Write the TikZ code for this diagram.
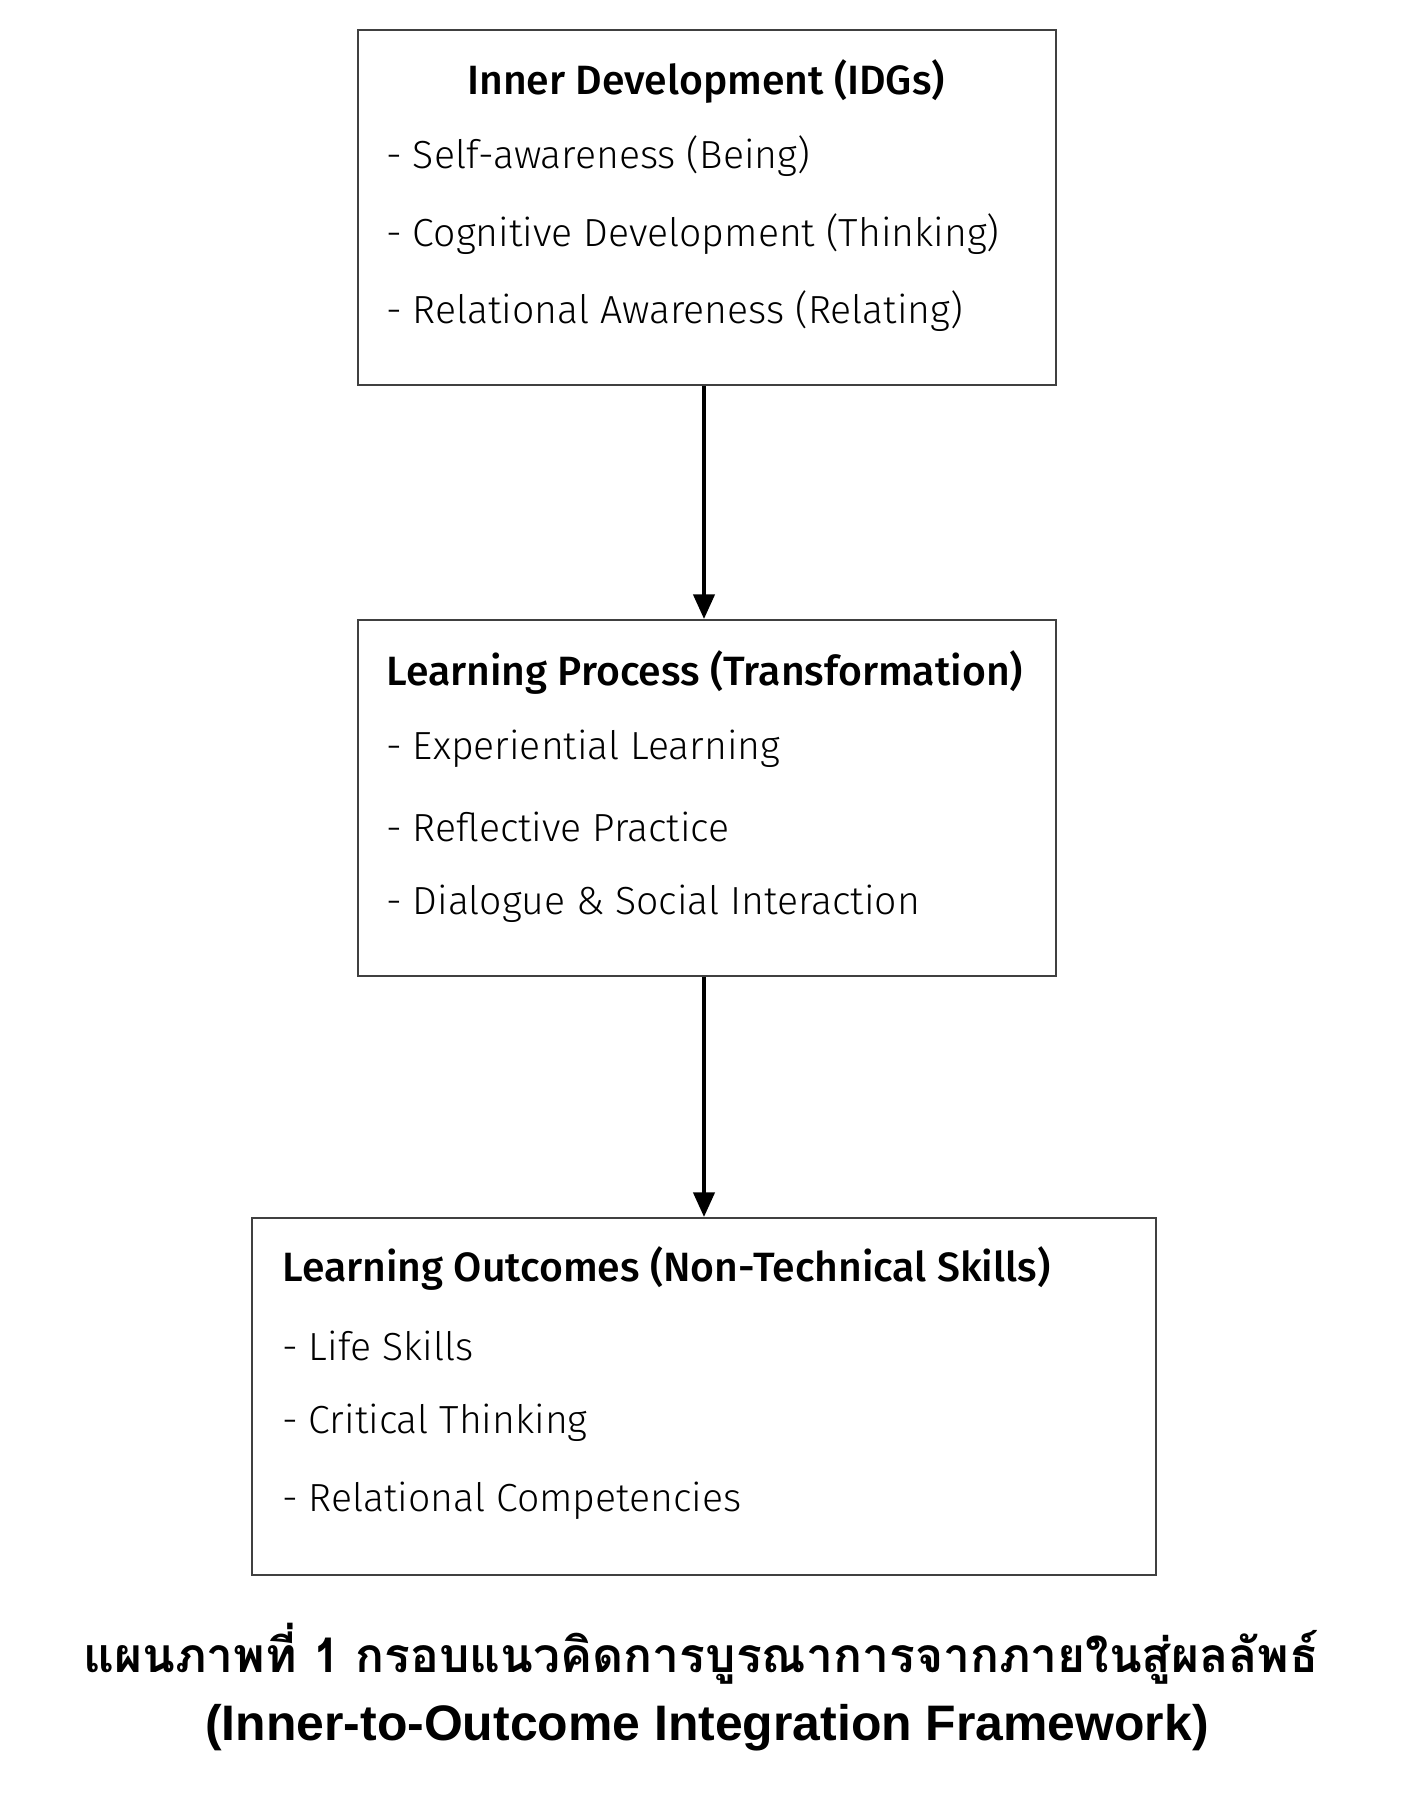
\documentclass[tikz,border=0pt]{standalone}
\usepackage{fontspec}
\usepackage{tikz}
\usetikzlibrary{arrows.meta}
\usetikzlibrary{positioning}

\IfFontExistsTF{Fira Sans Light}{\newfontfamily\boxfont{Fira Sans Light}}{\newfontfamily\boxfont{Fira Sans}}
\IfFontExistsTF{Fira Sans Medium}{\newfontfamily\boxbold{Fira Sans Medium}}{\newfontfamily\boxbold{Fira Sans}}
\newfontfamily\thaifont[Script=Thai]{Loma}
\newfontfamily\capfont{Liberation Sans}

\tikzset{
	framebox/.style={draw=black!75, line width=1.2pt, inner sep=0pt},
	itemtext/.style={anchor=west, inner sep=0pt, font=\boxfont\fontsize{22.3}{26}\selectfont},
	headtext/.style={inner sep=0pt, font=\boxbold\fontsize{23.3}{27}\selectfont},
	flow/.style={-{Triangle[length=14pt,width=12pt]}, line width=2.2pt},
}

\begin{document}
\begin{tikzpicture}[x=0.02cm, y=-0.02cm]
	\useasboundingbox (0,0) rectangle (1414,1798);

	% Boxes
	\node[framebox, minimum width=13.96cm, minimum height=7.1cm] (inner) at (707,207.5) {};
	\node[framebox, minimum width=13.96cm, minimum height=7.12cm] (process) at (707,798) {};
	\node[framebox, minimum width=18.08cm, minimum height=7.14cm] (outcome) at (704,1396.5) {};

	% Inner development
	\node[headtext] (innerhead) at (706,82) {Inner Development (IDGs)};
	\node[itemtext] (being) at (386,156) {- Self-awareness (Being)};
	\node[itemtext] (thinking) at (386,234) {- Cognitive Development (Thinking)};
	\node[itemtext] (relating) at (386,311) {- Relational Awareness (Relating)};

	% Learning process
	\node[headtext, anchor=west] (processhead) at (386,673) {Learning Process (Transformation)};
	\node[itemtext] (experiential) at (386,749) {- Experiential Learning};
	\node[itemtext] (reflective) at (386,827) {- Reflective Practice};
	\node[itemtext] (dialogue) at (386,904) {- Dialogue \& Social Interaction};

	% Learning outcomes
	\node[headtext, anchor=west] (outcomehead) at (282,1269) {Learning Outcomes (Non-Technical Skills)};
	\node[itemtext] (life) at (282,1346) {- Life Skills};
	\node[itemtext] (critical) at (282,1423) {- Critical Thinking};
	\node[itemtext] (competencies) at (282,1501) {- Relational Competencies};

	% Arrows
	\draw[flow] ([xshift=-0.06cm]inner.south) -- ([xshift=-0.06cm]process.north);
	\draw[flow] ([xshift=-0.06cm]process.south) -- ([xshift=-0.06cm]inner.south |- outcome.north);

	% Caption
	\node[font=\thaifont\bfseries\fontsize{27.3}{33}\selectfont] (captionth) at (701,1654) {แผนภาพที่ 1 กรอบแนวคิดการบูรณาการจากภายในสู่ผลลัพธ์};
	\node[font=\capfont\bfseries\fontsize{28.4}{34}\selectfont] (captionen) at (707,1728) {(Inner-to-Outcome Integration Framework)};
\end{tikzpicture}
\end{document}
